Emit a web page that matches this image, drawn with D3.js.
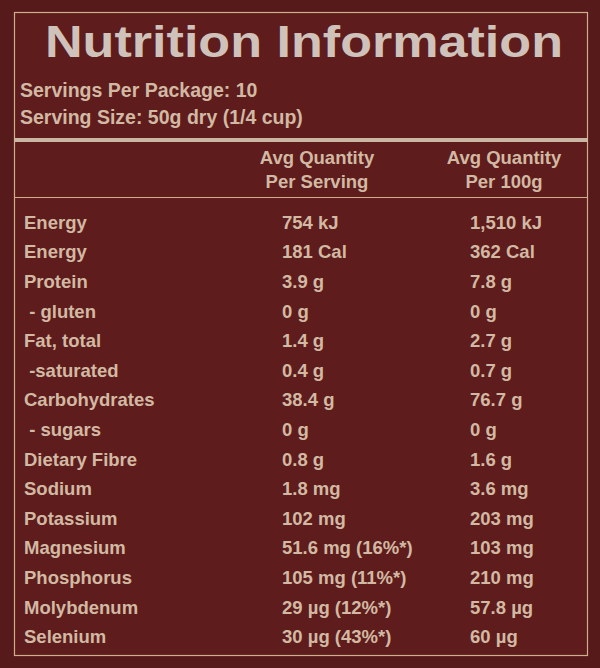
<!DOCTYPE html>
<html>
<head>
<meta charset="utf-8">
<script src="https://cdn.jsdelivr.net/npm/d3@7"></script>
<style>
  body { margin: 0; background: #561a1a; }
  text { font-family: "Liberation Sans", Arial, sans-serif; }
</style>
</head>
<body>
<script>
var width = 600, height = 668;

// rows of the panel
var nutrients = ["Energy", "Energy", "Protein", " - gluten", "Fat, total", " -saturated", "Carbohydrates", " - sugars",
    "Dietary Fibre", "Sodium", "Potassium", "Magnesium", "Phosphorus", "Molybdenum", "Selenium"];
var perServing = ["754 kJ", "181 Cal", "3.9 g", "0 g", "1.4 g", "0.4 g", "38.4 g", "0 g",
    "0.8 g", "1.8 mg", "102 mg", "51.6 mg (16%*)", "105 mg (11%*)", "29 \u00b5g (12%*)", "30 \u00b5g (43%*)"];
var per100g = ["1,510 kJ", "362 Cal", "7.8 g", "0 g", "2.7 g", "0.7 g", "76.7 g", "0 g",
    "1.6 g", "3.6 mg", "203 mg", "103 mg", "210 mg", "57.8 \u00b5g", "60 \u00b5g"];
var headers = [["Avg Quantity", "Per Serving"], ["Avg Quantity", "Per 100g"]];
var servingInfo = ["Servings Per Package: 10", "Serving Size: 50g dry (1/4 cup)"];

var fg = "#d2b9a3", line = "#cfae8c";

var svg = d3.select("body").append("svg")
    .attr("width", width).attr("height", height);

svg.append("rect").attr("width", width).attr("height", height).attr("fill", "#561a1a");

// outer frame
svg.append("rect")
    .attr("x", 14.5).attr("y", 12.5).attr("width", 573).attr("height", 643)
    .attr("fill", "#5e1c1c").attr("stroke", line).attr("stroke-width", 1.2);

svg.append("text")
    .attr("x", 45).attr("y", 57)
    .attr("font-size", 44).attr("font-weight", "bold")
    .attr("fill", "#cfc2bb")
    .attr("textLength", 518).attr("lengthAdjust", "spacingAndGlyphs")
    .text("Nutrition Information");

svg.selectAll("text.info").data(servingInfo).enter().append("text")
    .attr("class", "info")
    .attr("x", 20).attr("y", function (d, i) { return 97 + i * 27; })
    .attr("font-size", 19.5).attr("font-weight", "bold").attr("fill", fg)
    .text(function (d) { return d; });

// thick rule and thin rule
svg.append("rect").attr("x", 14).attr("y", 138).attr("width", 574).attr("height", 4).attr("fill", "#cbb6a3");
svg.append("line").attr("x1", 14).attr("x2", 588).attr("y1", 197.5).attr("y2", 197.5)
    .attr("stroke", line).attr("stroke-width", 1.2);

var colX = [24, 282, 470];
var headerX = [317, 504];

headers.forEach(function (h, i) {
    svg.append("text")
        .attr("x", headerX[i]).attr("text-anchor", "middle")
        .attr("font-size", 18.5).attr("font-weight", "bold").attr("fill", fg)
        .selectAll("tspan").data(h).enter().append("tspan")
        .attr("x", headerX[i])
        .attr("y", function (d, j) { return 164 + j * 24; })
        .text(function (d) { return d; });
});

var y = d3.scaleBand()
    .domain(d3.range(nutrients.length))
    .range([207, 651]);

var row = svg.selectAll("g.row").data(nutrients).enter().append("g")
    .attr("class", "row")
    .attr("transform", function (d, i) { return "translate(0," + (y(i) + y.bandwidth() / 2 + 7) + ")"; });

[nutrients, perServing, per100g].forEach(function (col, c) {
    row.append("text")
        .attr("x", colX[c])
        .attr("font-size", 18.5).attr("font-weight", "bold").attr("fill", fg)
        .attr("xml:space", "preserve")
        .text(function (d, i) { return col[i]; });
});
</script>
</body>
</html>
